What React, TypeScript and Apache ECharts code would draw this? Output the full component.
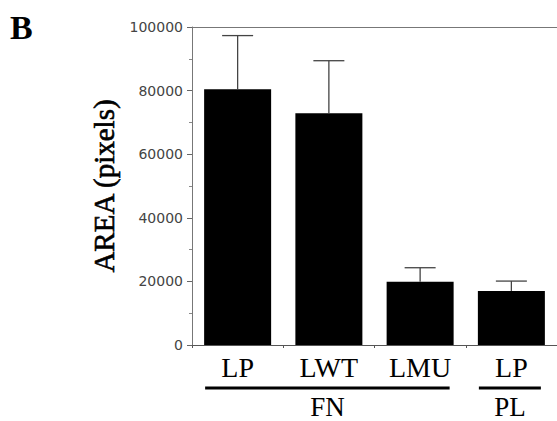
import React, { useEffect, useRef } from "react";
import * as echarts from "echarts";

const categories = ["LP", "LWT", "LMU", "LP"];
const areaMeans = [80400, 72900, 19900, 17000];
const areaUpper = [97300, 89400, 24300, 20100];
const groups = [
  { name: "FN", from: 0, to: 2 },
  { name: "PL", from: 3, to: 3 },
];
const yTicks = { min: 0, max: 100000, interval: 20000 };

const SERIF = "'Liberation Serif', 'Times New Roman', serif";
const SANS = "'DejaVu Sans', sans-serif";

export default function App() {
  const ref = useRef<HTMLDivElement>(null);
  useEffect(() => {
    document.body.style.margin = "0";
    const chart = echarts.init(ref.current!, null, { renderer: "svg" });
    const barWidth = 67;
    const capHalf = 15.5;
    chart.setOption({
      animation: false,
      backgroundColor: "#ffffff",
      grid: { left: 192, top: 27, width: 367, bottom: 76, containLabel: false },
      xAxis: [
        {
          type: "category",
          data: categories,
          position: "bottom",
          axisLine: { show: true, lineStyle: { color: "#555", width: 1 } },
          axisTick: { show: true, length: 3, lineStyle: { color: "#555" } },
          axisLabel: {
            fontFamily: SERIF,
            fontSize: 28,
            color: "#000",
            margin: 8,
          },
        },
        {
          type: "category",
          data: categories,
          position: "top",
          axisLine: { show: true, lineStyle: { color: "#777", width: 1 } },
          axisTick: { show: false },
          axisLabel: { show: false },
        },
      ],
      yAxis: {
        type: "value",
        min: yTicks.min,
        max: yTicks.max,
        interval: yTicks.interval,
        name: "AREA (pixels)",
        nameLocation: "middle",
        nameGap: 66,
        nameTextStyle: {
          fontFamily: SERIF,
          fontSize: 29,
          fontWeight: "normal",
          color: "#000",
          textBorderColor: "#000",
          textBorderWidth: 0.6,
        },
        axisLine: { show: true, lineStyle: { color: "#777", width: 1 } },
        axisTick: { show: true, length: 5, lineStyle: { color: "#666" } },
        minorTick: { show: true, splitNumber: 2, length: 3, lineStyle: { color: "#888" } },
        splitLine: { show: false },
        axisLabel: {
          fontFamily: SANS,
          fontSize: 14,
          color: "#444",
          margin: 9,
          formatter: (v: number) => String(v),
        },
      },
      series: [
        {
          type: "bar",
          data: areaMeans,
          barWidth: barWidth,
          itemStyle: { color: "#000" },
          xAxisIndex: 0,
          z: 2,
        },
        {
          type: "custom",
          xAxisIndex: 0,
          data: areaMeans.map((m, i) => [i, m, areaUpper[i]]),
          encode: { x: 0, y: [1, 2] },
          z: 3,
          renderItem: (params: any, api: any) => {
            const i = api.value(0);
            const low = api.coord([i, api.value(1)]);
            const high = api.coord([i, api.value(2)]);
            const style = { stroke: "#444", lineWidth: 1.3 };
            return {
              type: "group",
              children: [
                { type: "line", shape: { x1: low[0], y1: low[1], x2: high[0], y2: high[1] }, style },
                {
                  type: "line",
                  shape: { x1: high[0] - capHalf, y1: high[1], x2: high[0] + capHalf, y2: high[1] },
                  style,
                },
              ],
            };
          },
        },
      ],
    });

    const lineY = 388;
    const graphics: any[] = [
      {
        type: "text",
        left: 10,
        top: 10,
        style: { text: "B", fontFamily: SERIF, fontSize: 34, fontWeight: "bold", fill: "#000" },
      },
    ];
    groups.forEach((g) => {
      const x0 = chart.convertToPixel({ xAxisIndex: 0 }, g.from) as number;
      const x1 = chart.convertToPixel({ xAxisIndex: 0 }, g.to) as number;
      const left = x0 - barWidth / 2 + 1;
      const right = x1 + barWidth / 2 - 4;
      graphics.push({
        type: "line",
        shape: { x1: left, y1: lineY, x2: right, y2: lineY },
        style: { stroke: "#000", lineWidth: 3 },
      });
      graphics.push({
        type: "text",
        x: (left + right) / 2,
        y: lineY + 19,
        style: {
          text: g.name,
          fontFamily: SERIF,
          fontSize: 27,
          fill: "#000",
          align: "center",
          verticalAlign: "middle",
        },
      });
    });
    chart.setOption({ graphic: graphics });

    return () => chart.dispose();
  }, []);
  return (
    <div
      ref={ref}
      style={{ position: "fixed", left: 0, top: 0, width: 557, height: 421 }}
    />
  );
}
